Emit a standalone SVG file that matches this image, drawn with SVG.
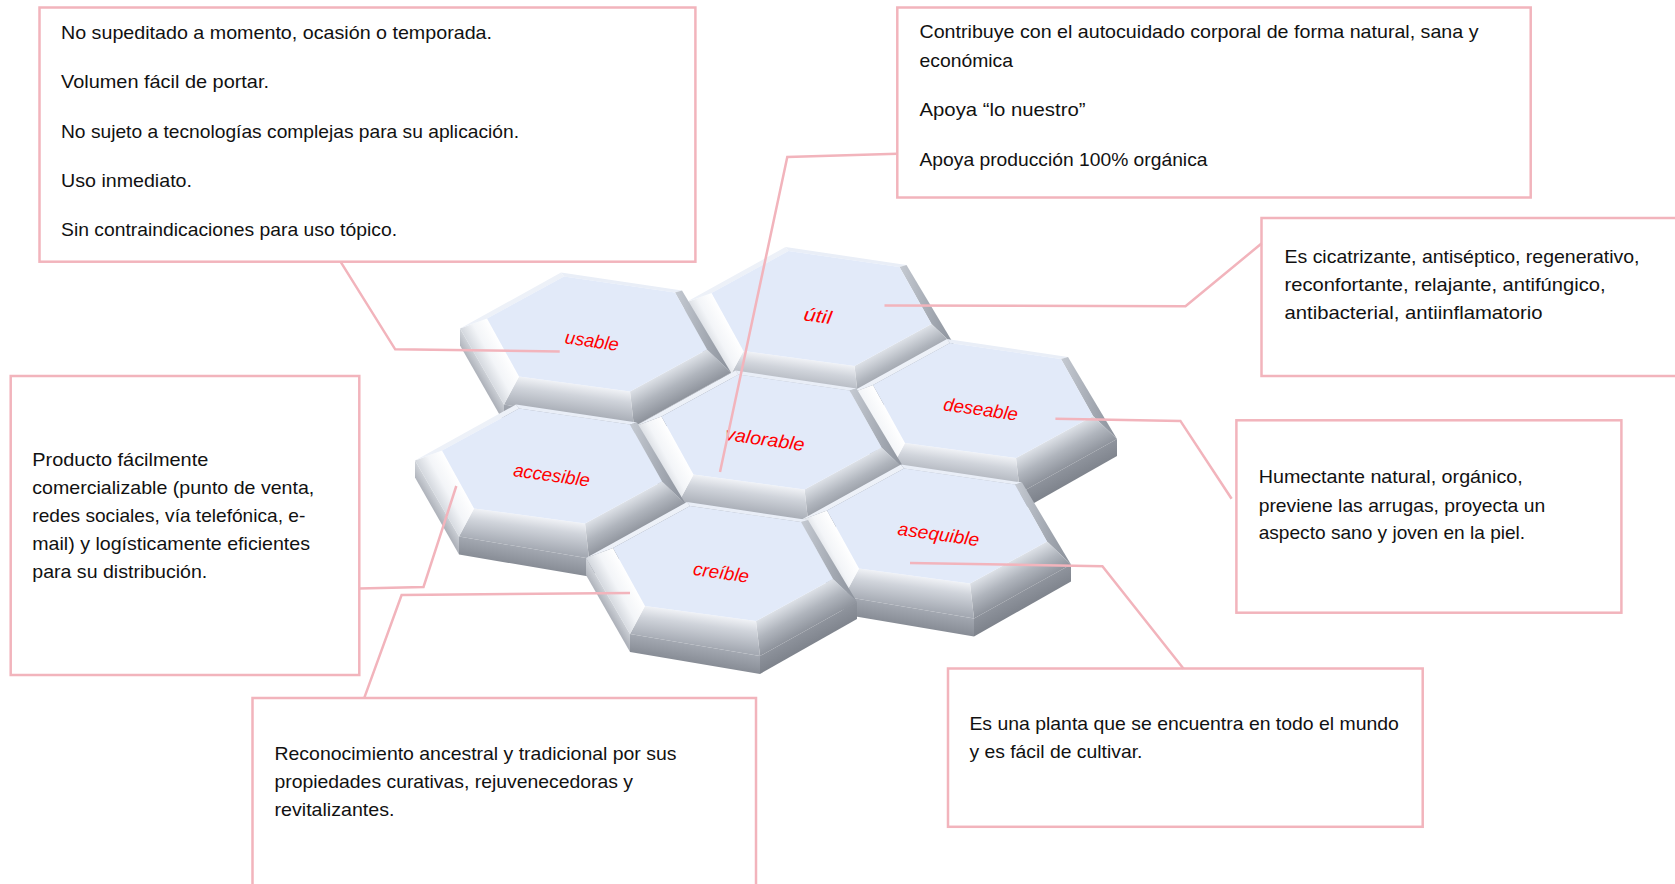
<svg xmlns="http://www.w3.org/2000/svg" width="1675" height="884" viewBox="0 0 1675 884">
<style>
.box{fill:#fff;stroke:#F2B4BC;stroke-width:2.5}
.t{font-family:"Liberation Sans",Arial,sans-serif;font-size:18.5px;fill:#111}
.lbl{font-family:"Liberation Sans",Arial,sans-serif;font-size:18.5px;font-style:italic;fill:#FF0000;text-anchor:middle;dominant-baseline:central}
.con{fill:none;stroke:#F2B4BC;stroke-width:2.5;stroke-linejoin:miter}
</style>
<defs>
<linearGradient id="gBot" gradientUnits="userSpaceOnUse" x1="-22.5" y1="49.5" x2="-26.8" y2="81.1">
<stop offset="0" stop-color="#F0F2F6"/><stop offset="0.35" stop-color="#D0D4DB"/><stop offset="1" stop-color="#A5AAB3"/>
</linearGradient>
<linearGradient id="gLR" gradientUnits="userSpaceOnUse" x1="71.5" y1="36" x2="86.9" y2="64.3">
<stop offset="0" stop-color="#DDE1E7"/><stop offset="0.5" stop-color="#B0B5BD"/><stop offset="1" stop-color="#8E939C"/>
</linearGradient>
<linearGradient id="gLL" gradientUnits="userSpaceOnUse" x1="-94" y1="13" x2="-118.2" y2="26.3">
<stop offset="0" stop-color="#FFFFFF"/><stop offset="0.55" stop-color="#F3F5F8"/><stop offset="1" stop-color="#D5D9DF"/>
</linearGradient>
<linearGradient id="gUR" x1="0" y1="0" x2="1" y2="0">
<stop offset="0" stop-color="#C5CAD2"/><stop offset="1" stop-color="#8A909A"/>
</linearGradient>
<linearGradient id="gWB" gradientUnits="userSpaceOnUse" x1="-28" y1="81" x2="-31" y2="99">
<stop offset="0" stop-color="#A3A8B1"/><stop offset="1" stop-color="#878C95"/>
</linearGradient>
<linearGradient id="gWR" gradientUnits="userSpaceOnUse" x1="85.5" y1="65" x2="93" y2="79">
<stop offset="0" stop-color="#8E939C"/><stop offset="1" stop-color="#7E838C"/>
</linearGradient>
<linearGradient id="gWL" gradientUnits="userSpaceOnUse" x1="-115" y1="32" x2="-122.5" y2="36.5">
<stop offset="0" stop-color="#CDD1D7"/><stop offset="1" stop-color="#AEB2BA"/>
</linearGradient>
<g id="tile">
<polygon points="134,38 37,92 37,110 134,55" fill="url(#gWR)"/>
<polygon points="37,92 -93,70 -93,88 37,110" fill="url(#gWB)"/>
<polygon points="-93,70 -137,-6 -137,11 -93,88" fill="url(#gWL)"/>
<polygon points="-33,-58 78,-42 85,-44 -36,-62" fill="#E9EEF7"/>
<polygon points="78,-42 110,15 134,38 85,-44" fill="url(#gUR)"/>
<polygon points="110,15 33,57 37,92 134,38" fill="url(#gLR)"/>
<polygon points="33,57 -78,42 -93,70 37,92" fill="url(#gBot)"/>
<polygon points="-78,42 -110,-16 -137,-6 -93,70" fill="url(#gLL)"/>
<polygon points="-110,-16 -33,-58 -36,-62 -137,-6" fill="#EDF1F8"/>
<polygon points="-33,-58 78,-42 110,15 33,57 -78,42 -110,-16" fill="#E2EAF9"/>
</g>
</defs>

<g id="box-usable">
<rect class="box" x="39.5" y="7.5" width="655.9" height="254.2"/>
<text class="t" x="61" y="39" textLength="431" lengthAdjust="spacingAndGlyphs">No supeditado a momento, ocasión o temporada.</text>
<text class="t" x="61" y="88" textLength="208" lengthAdjust="spacingAndGlyphs">Volumen fácil de portar.</text>
<text class="t" x="61" y="137.5" textLength="458" lengthAdjust="spacingAndGlyphs">No sujeto a tecnologías complejas para su aplicación.</text>
<text class="t" x="61" y="186.5" textLength="131" lengthAdjust="spacingAndGlyphs">Uso inmediato.</text>
<text class="t" x="61" y="235.5" textLength="336" lengthAdjust="spacingAndGlyphs">Sin contraindicaciones para uso tópico.</text>
</g>

<g id="box-valorable">
<rect class="box" x="897.3" y="7.5" width="633.4" height="190"/>
<text class="t" x="919.5" y="38.3" textLength="559" lengthAdjust="spacingAndGlyphs">Contribuye con el autocuidado corporal de forma natural, sana y</text>
<text class="t" x="919.5" y="66.7" textLength="93.5" lengthAdjust="spacingAndGlyphs">económica</text>
<text class="t" x="919.5" y="116" textLength="166" lengthAdjust="spacingAndGlyphs">Apoya “lo nuestro”</text>
<text class="t" x="919.5" y="165.7" textLength="288" lengthAdjust="spacingAndGlyphs">Apoya producción 100% orgánica</text>
</g>

<g id="box-util">
<rect class="box" x="1261.5" y="218" width="440" height="158"/>
<text class="t" x="1284.5" y="263.3" textLength="355" lengthAdjust="spacingAndGlyphs">Es cicatrizante, antiséptico, regenerativo,</text>
<text class="t" x="1284.5" y="291" textLength="321" lengthAdjust="spacingAndGlyphs">reconfortante, relajante, antifúngico,</text>
<text class="t" x="1284.5" y="319" textLength="258" lengthAdjust="spacingAndGlyphs">antibacterial, antiinflamatorio</text>
</g>

<g id="box-accesible">
<rect class="box" x="10.7" y="376" width="348.6" height="299"/>
<text class="t" x="32.3" y="466" textLength="176" lengthAdjust="spacingAndGlyphs">Producto fácilmente</text>
<text class="t" x="32.3" y="494" textLength="282" lengthAdjust="spacingAndGlyphs">comercializable (punto de venta,</text>
<text class="t" x="32.3" y="522" textLength="273" lengthAdjust="spacingAndGlyphs">redes sociales, vía telefónica, e-</text>
<text class="t" x="32.3" y="550" textLength="277.7" lengthAdjust="spacingAndGlyphs">mail) y logísticamente eficientes</text>
<text class="t" x="32.3" y="577.5" textLength="175" lengthAdjust="spacingAndGlyphs">para su distribución.</text>
</g>

<g id="box-creible">
<rect class="box" x="252.5" y="698" width="503.5" height="250"/>
<text class="t" x="274.5" y="760" textLength="402" lengthAdjust="spacingAndGlyphs">Reconocimiento ancestral y tradicional por sus</text>
<text class="t" x="274.5" y="788" textLength="358.4" lengthAdjust="spacingAndGlyphs">propiedades curativas, rejuvenecedoras y</text>
<text class="t" x="274.5" y="816" textLength="120" lengthAdjust="spacingAndGlyphs">revitalizantes.</text>
</g>

<g id="box-deseable">
<rect class="box" x="1236.4" y="420.3" width="385" height="192.4"/>
<text class="t" x="1258.7" y="483.3" textLength="264" lengthAdjust="spacingAndGlyphs">Humectante natural, orgánico,</text>
<text class="t" x="1258.7" y="511.7" textLength="286.5" lengthAdjust="spacingAndGlyphs">previene las arrugas, proyecta un</text>
<text class="t" x="1258.7" y="539.3" textLength="266.5" lengthAdjust="spacingAndGlyphs">aspecto sano y joven en la piel.</text>
</g>

<g id="box-asequible">
<rect class="box" x="948" y="668.5" width="474.7" height="158.3"/>
<text class="t" x="969.4" y="730" textLength="429.5" lengthAdjust="spacingAndGlyphs">Es una planta que se encuentra en todo el mundo</text>
<text class="t" x="969.4" y="757.7" textLength="173" lengthAdjust="spacingAndGlyphs">y es fácil de cultivar.</text>
</g>

<g id="hex-util"><use href="#tile" transform="translate(821.5,309)"/><text class="lbl" x="817.8" y="315.7" transform="rotate(8 817.8 315.7)" textLength="28" lengthAdjust="spacingAndGlyphs">útil</text></g>
<g id="hex-usable"><use href="#tile" transform="translate(597,334.5)"/><text class="lbl" x="592" y="340.7" transform="rotate(8 592 340.7)" textLength="54" lengthAdjust="spacingAndGlyphs">usable</text></g>
<g id="hex-deseable"><use href="#tile" transform="translate(983,401)"/><text class="lbl" x="980.8" y="409" transform="rotate(8 980.8 409)" textLength="75" lengthAdjust="spacingAndGlyphs">deseable</text></g>
<g id="hex-valorable"><use href="#tile" transform="translate(771.5,432.5)"/><text class="lbl" x="765" y="439" transform="rotate(8 765 439)" textLength="80" lengthAdjust="spacingAndGlyphs">valorable</text></g>
<g id="hex-accesible"><use href="#tile" transform="translate(552,466.5)"/><text class="lbl" x="551.7" y="475" transform="rotate(8 551.7 475)" textLength="77" lengthAdjust="spacingAndGlyphs">accesible</text></g>
<g id="hex-asequible"><use href="#tile" transform="translate(937,526.5)"/><text class="lbl" x="938.6" y="534" transform="rotate(8 938.6 534)" textLength="82" lengthAdjust="spacingAndGlyphs">asequible</text></g>
<g id="hex-creible"><use href="#tile" transform="translate(723,564)"/><text class="lbl" x="721.2" y="572.3" transform="rotate(8 721.2 572.3)" textLength="56" lengthAdjust="spacingAndGlyphs">creíble</text></g>

<g id="connectors">
<polyline class="con" points="340.5,261.7 395.2,349.3 559.7,351.4"/>
<polyline class="con" points="897.3,153.8 787.3,157 720,472"/>
<polyline class="con" points="1261.5,243.5 1185.5,306.3 884.5,305.5"/>
<polyline class="con" points="1231.6,498.8 1180.4,420.9 1055.4,418.7"/>
<polyline class="con" points="1183.6,668.7 1102.4,566.2 910,563"/>
<polyline class="con" points="359,588.6 423.5,587 456.3,486"/>
<polyline class="con" points="364,698.6 401.6,595 630,592.9"/>
</g>
</svg>
